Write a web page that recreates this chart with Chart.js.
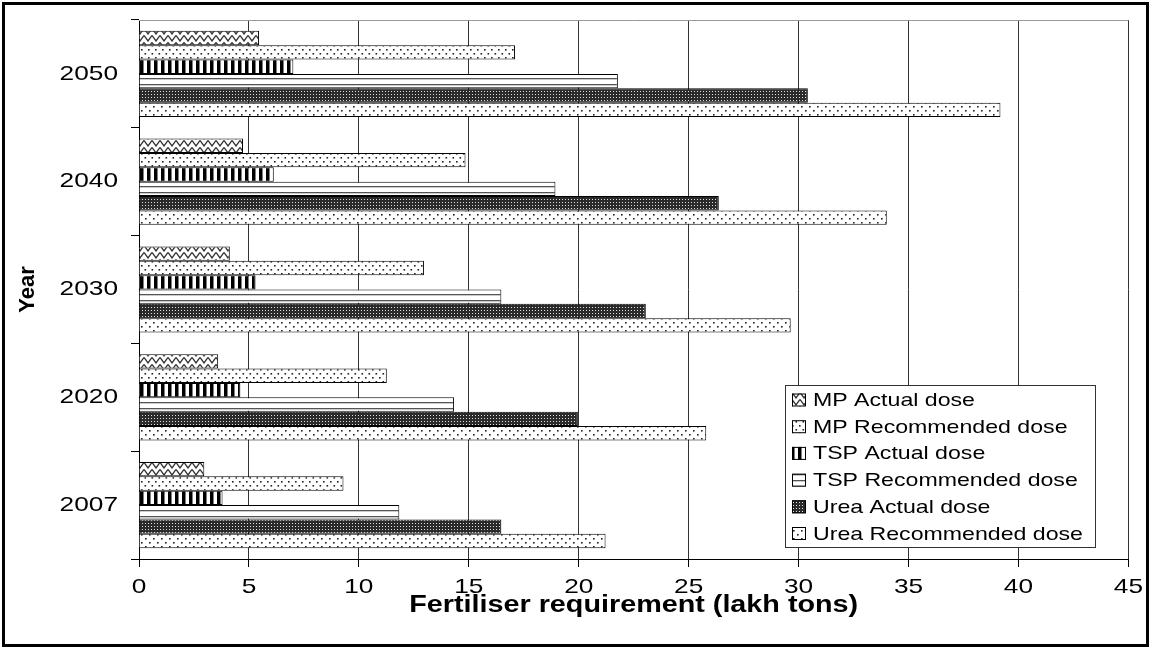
<!DOCTYPE html>
<html>
<head>
<meta charset="utf-8">
<title>Fertiliser requirement</title>
<script src="https://cdn.jsdelivr.net/npm/chart.js@4.4.0/dist/chart.umd.min.js"></script>
<style>
  html, body { margin: 0; padding: 0; background: #fff; }
  #wrap { position: relative; width: 1151px; height: 650px; }
</style>
</head>
<body>
<div id="wrap"><canvas id="chart" width="1151" height="650"></canvas></div>
<script>
// years on the category axis (drawn bottom to top)
const years = ["2007", "2020", "2030", "2040", "2050"];

// requirement in lakh tons
const mpActual  = [2.97, 3.60, 4.13, 4.73, 5.46];
const mpRecom   = [9.30, 11.27, 12.96, 14.85, 17.10];
const tspActual = [3.80, 4.61, 5.30, 6.13, 7.02];
const tspRecom  = [11.84, 14.33, 16.48, 18.94, 21.78];
const ureaActual = [16.48, 19.96, 23.05, 26.37, 30.42];
const ureaRecom  = [21.22, 25.80, 29.64, 34.01, 39.18];

const seriesNames = [
  "MP Actual dose", "MP Recommended dose",
  "TSP Actual dose", "TSP Recommended dose",
  "Urea Actual dose", "Urea Recommended dose"
];

const xTicks = [0, 5, 10, 15, 20, 25, 30, 35, 40, 45];

const FONT = "'Liberation Sans', Arial, sans-serif";
const STRETCH = 1.25; // text in this chart is drawn wide

const canvas = document.getElementById("chart");
const ctx = canvas.getContext("2d");

// small tiles used as black & white fills
function tile(w, h, draw) {
  const c = document.createElement("canvas");
  c.width = w;
  c.height = h;
  const g = c.getContext("2d");
  g.fillStyle = "#fff";
  g.fillRect(0, 0, w, h);
  draw(g);
  return ctx.createPattern(c, "repeat");
}

function dot(g, x, y, r, col) {
  g.fillStyle = col;
  g.fillRect(x, y, r, r);
}

const fills = [
  // zig zag
  tile(8, 7, g => {
    g.strokeStyle = "#333";
    g.lineWidth = 1.3;
    g.beginPath();
    g.moveTo(0, 0.5);
    g.lineTo(4, 6);
    g.lineTo(8, 0.5);
    g.stroke();
  }),
  // close dots
  tile(7, 8, g => {
    dot(g, 1, 1, 1.6, "#222");
    dot(g, 4.5, 5, 1.6, "#222");
  }),
  // vertical stripes
  tile(7, 4, g => {
    g.fillStyle = "#000";
    g.fillRect(0, 0, 3.5, 4);
  }),
  // horizontal lines
  tile(4, 6, g => {
    g.fillStyle = "#555";
    g.fillRect(0, 0, 4, 1.3);
  }),
  // dark grid of light dots
  tile(3, 3, g => {
    g.fillStyle = "#2a2a2a";
    g.fillRect(0, 0, 3, 3);
    g.fillStyle = "#e0e0e0";
    g.fillRect(1, 1, 1, 1);
  }),
  // sparse dots
  tile(8, 8, g => {
    dot(g, 1, 2, 1.6, "#222");
    dot(g, 5, 6, 1.6, "#222");
  })
];

const values = [mpActual, mpRecom, tspActual, tspRecom, ureaActual, ureaRecom];

// widen every horizontal text run around its anchor point
const wideText = {
  id: "wideText",
  beforeInit(chart) {
    const c = chart.ctx;
    const fill = c.fillText.bind(c);
    const measure = c.measureText.bind(c);
    c.fillText = function (text, x, y, maxWidth) {
      const t = c.getTransform();
      if (Math.abs(t.b) > 1e-6) {
        fill(text, x, y);
        return;
      }
      c.save();
      c.translate(x, y);
      c.scale(STRETCH, 1);
      fill(text, 0, 0);
      c.restore();
    };
    c.measureText = function (text) {
      const m = measure(text);
      return {
        width: m.width * STRETCH,
        actualBoundingBoxAscent: m.actualBoundingBoxAscent,
        actualBoundingBoxDescent: m.actualBoundingBoxDescent
      };
    };
  }
};

// white page, outer frame, top edge of the plot and the boxed legend
const decor = {
  id: "decor",
  beforeDraw(chart) {
    const c = chart.ctx;
    c.save();
    c.fillStyle = "#fff";
    c.fillRect(0, 0, chart.width, chart.height);
    c.restore();
  },
  afterDraw(chart) {
    const c = chart.ctx;
    const a = chart.chartArea;
    c.save();
    c.strokeStyle = "#999";
    c.lineWidth = 1;
    c.beginPath();
    c.moveTo(a.left, a.top + 0.5);
    c.lineTo(a.right, a.top + 0.5);
    c.stroke();

    // legend
    const lx = 785, ly = 385, lw = 310, lh = 162;
    c.fillStyle = "#fff";
    c.fillRect(lx, ly, lw, lh);
    c.strokeStyle = "#333";
    c.strokeRect(lx + 0.5, ly + 0.5, lw, lh);
    c.font = "18.5px " + FONT;
    c.textAlign = "left";
    c.textBaseline = "middle";
    seriesNames.forEach((name, i) => {
      const cy = ly + 15 + i * 26.7;
      c.fillStyle = fills[i];
      c.fillRect(792, cy - 6.5, 14, 13);
      c.strokeStyle = "#000";
      c.strokeRect(792.5, cy - 6, 13, 12);
      c.fillStyle = "#000";
      c.fillText(name, 813, cy + 1);
    });

    // frame round the whole figure
    c.strokeStyle = "#000";
    c.lineWidth = 3;
    c.strokeRect(3.5, 3.5, 1144, 642);
    c.restore();
  }
};

new Chart(ctx, {
  type: "bar",
  data: {
    labels: years,
    datasets: seriesNames.map((name, i) => ({
      label: name,
      data: values[i],
      backgroundColor: fills[i],
      borderColor: "#000",
      borderWidth: 1,
      categoryPercentage: 0.8,
      barPercentage: 1.0
    }))
  },
  options: {
    indexAxis: "y",
    responsive: false,
    animation: false,
    devicePixelRatio: 1,
    layout: { padding: { left: 0, top: 20, right: 20, bottom: 0 } },
    plugins: {
      legend: { display: false },
      tooltip: { enabled: false }
    },
    scales: {
      x: {
        min: 0,
        max: 45,
        afterBuildTicks: s => { s.ticks = xTicks.map(v => ({ value: v })); },
        afterFit: s => { s.height = 91; },
        grid: { color: "#333", lineWidth: 1, tickLength: 8, tickColor: "#000" },
        border: { color: "#000", width: 1 },
        ticks: { color: "#000", padding: 8, font: { family: FONT, size: 21 } },
        title: {
          display: true,
          text: "Fertiliser requirement (lakh tons)",
          color: "#000",
          padding: { top: 0, bottom: 31 },
          font: { family: FONT, size: 23, weight: "bold" }
        }
      },
      y: {
        reverse: true,
        afterFit: s => {
          s.width = 139;
          // labels are centred in their bands, no extra room needed above/below
          s.paddingTop = 0;
          s.paddingBottom = 0;
        },
        grid: { drawOnChartArea: false, offset: true, tickLength: 8, color: "#000" },
        border: { color: "#000", width: 1 },
        ticks: { color: "#000", padding: 13, font: { family: FONT, size: 21 } },
        title: {
          display: true,
          text: "Year",
          color: "#000",
          padding: { top: 15, bottom: 0 },
          font: { family: FONT, size: 22, weight: "bold" }
        }
      }
    }
  },
  plugins: [wideText, decor]
});
</script>
</body>
</html>
